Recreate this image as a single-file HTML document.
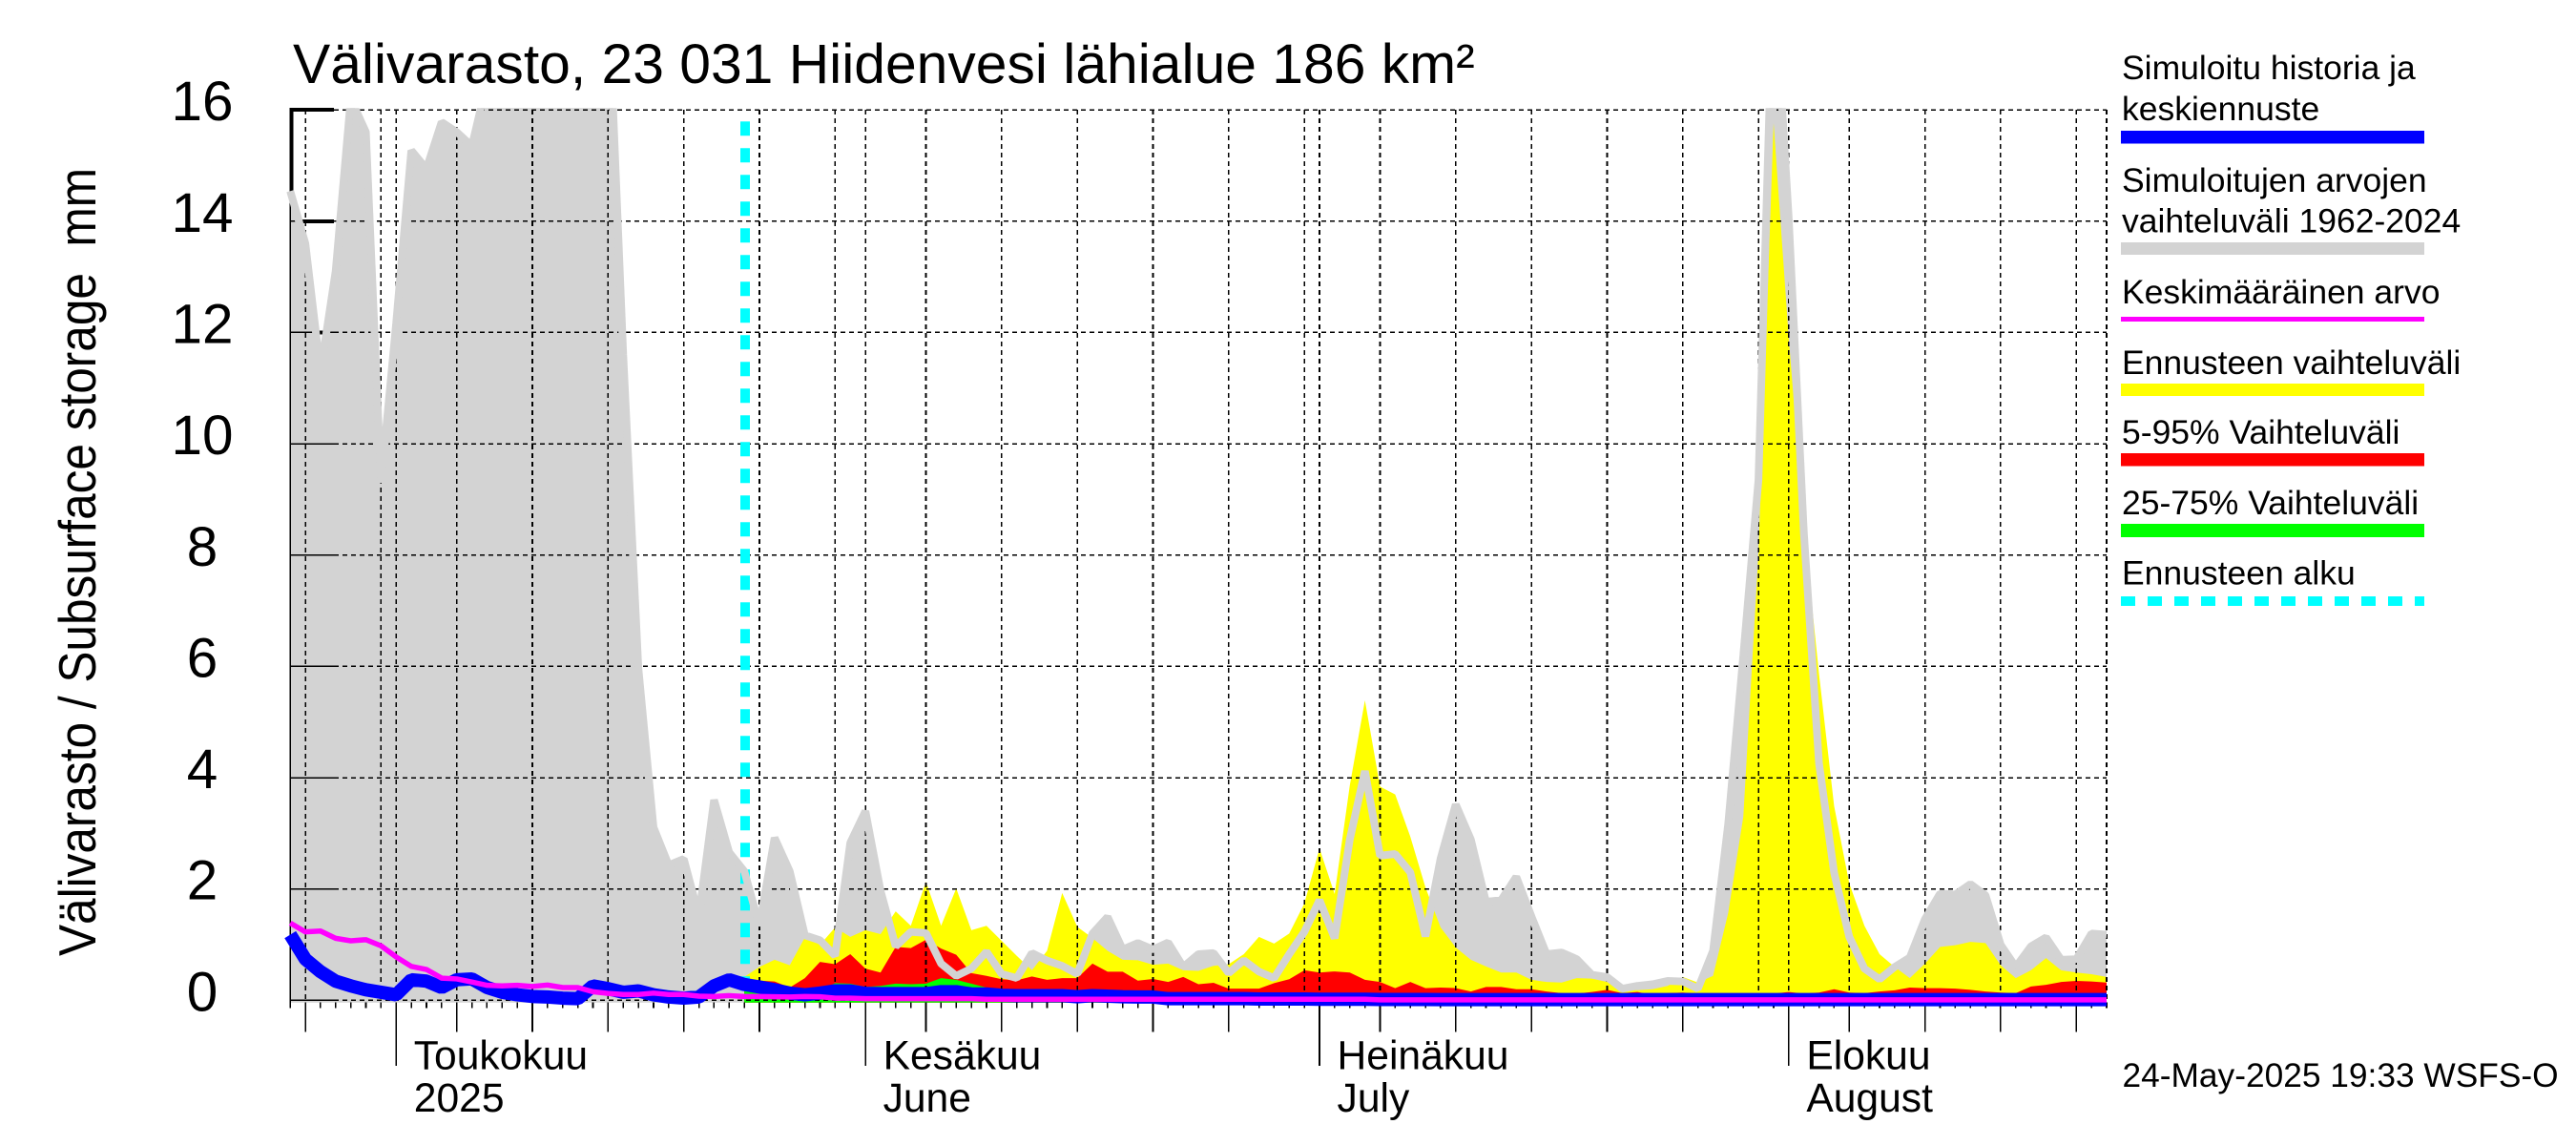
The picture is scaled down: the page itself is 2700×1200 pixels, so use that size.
<!DOCTYPE html>
<html lang="fi">
<head>
<meta charset="utf-8">
<title>Välivarasto, 23 031 Hiidenvesi lähialue</title>
<style>
html,body{margin:0;padding:0;background:#fff;}
svg{display:block;}
text{font-family:"Liberation Sans",sans-serif;fill:#000;}
.leg{font-size:35.5px;}
.crisp{shape-rendering:crispEdges;}
</style>
</head>
<body>
<svg id="chart" xmlns="http://www.w3.org/2000/svg" width="2700" height="1200" viewBox="0 0 2700 1200">
  <defs>
    <clipPath id="plot-clip"><rect x="290" y="113.3" width="1918" height="960"></rect></clipPath>
  </defs>
  <rect x="0" y="0" width="2700" height="1200" fill="#ffffff"></rect>

  <text x="307" y="87" font-size="58.8">Välivarasto, 23 031 Hiidenvesi lähialue 186 km²</text>
  <text transform="translate(100,1002) rotate(-90)" font-size="55" textLength="826" lengthAdjust="spacingAndGlyphs" style="white-space:pre">Välivarasto / Subsurface storage  mm</text>

  <g id="layer-axis-under"></g>
  <g id="layer-fills"></g>
  <g id="layer-grid" class="crisp"></g>
  <line x1="781" y1="127.3" x2="781" y2="1050" stroke="#00ffff" stroke-width="10" stroke-dasharray="15 13"></line>
  <g id="layer-lines"></g>
  <g id="layer-labels"></g>

  <g>
    <g>
      <text class="leg" x="2224" y="83">Simuloitu historia ja</text>
      <text class="leg" x="2224" y="126">keskiennuste</text>
      <rect class="crisp" x="2223" y="137" width="318" height="13.5" fill="#0000ff"></rect>
    </g>
    <g>
      <text class="leg" x="2224" y="201">Simuloitujen arvojen</text>
      <text class="leg" x="2224" y="243.5">vaihteluväli 1962-2024</text>
      <rect class="crisp" x="2223" y="254" width="318" height="13" fill="#d3d3d3"></rect>
    </g>
    <g>
      <text class="leg" x="2224" y="318">Keskimääräinen arvo</text>
      <rect class="crisp" x="2223" y="332" width="318" height="5" fill="#ff00ff"></rect>
    </g>
    <g>
      <text class="leg" x="2224" y="392">Ennusteen vaihteluväli</text>
      <rect class="crisp" x="2223" y="402" width="318" height="13" fill="#ffff00"></rect>
    </g>
    <g>
      <text class="leg" x="2224" y="465">5-95% Vaihteluväli</text>
      <rect class="crisp" x="2223" y="475" width="318" height="13.5" fill="#ff0000"></rect>
    </g>
    <g>
      <text class="leg" x="2224" y="539">25-75% Vaihteluväli</text>
      <rect class="crisp" x="2223" y="549" width="318" height="14" fill="#00ff00"></rect>
    </g>
    <g>
      <text class="leg" x="2224" y="612.5">Ennusteen alku</text>
      <line class="crisp" x1="2223" y1="630" x2="2541" y2="630" stroke="#00ffff" stroke-width="10" stroke-dasharray="15 13"></line>
    </g>
  </g>
  <text x="2224.5" y="1139" font-size="35.3">24-May-2025 19:33 WSFS-O</text>
</svg>

<script>
// Categories and tick labels
const yTickValues = [0, 2, 4, 6, 8, 10, 12, 14, 16];
const monthLabelsFi = ['Toukokuu', 'Kesäkuu', 'Heinäkuu', 'Elokuu'];
const monthLabelsEn = ['2025', 'June', 'July', 'August'];

// Simulated range upper bound, daily from 24 Apr (121 values)
const rangeUpper = [
  14.54,13.6,11.3,13.1,16.2,15.6,9.3,12.17,15.27,14.94,
  15.78,15.6,15.35,16.5,18,18,18,18,18,18,
  18,18.2,11.6,5.97,3.11,2.43,2.54,1.52,3.6,2.66,
  2.32,1.34,2.92,2.32,1.17,1.08,0.8,2.83,3.4,1.97,
  0.97,1.23,1.21,0.66,0.44,0.57,0.875,0.475,0.4,0.85,
  0.715,0.62,0.475,1.2,1.5,0.915,1.03,0.915,1.04,0.6,
  0.83,0.85,0.49,0.72,0.515,0.4,0.83,1.23,1.8,1.115,
  2.89,4.12,2.6,2.63,2.3,1.15,2.55,3.52,2.89,1.77,
  1.8,2.22,1.51,0.83,0.86,0.74,0.46,0.42,0.21,0.26,
  0.29,0.35,0.34,0.21,0.89,3.17,6.2,9.35,18.6,14.05,
  8.4,4.26,2.29,1.14,0.57,0.38,0.6,0.77,1.46,1.92,
  1.9,2.09,1.89,1.0,0.6,0.97,1.13,0.73,0.74,1.2,
  1.18
];

// Forecast range upper bound, daily from 24 May (91 values)
const forecastUpper = [
  0.42,0.6,0.73,0.63,1.13,1.0,1.31,1.14,1.26,1.19,
  1.6,1.34,2.13,1.34,2.01,1.26,1.34,1.07,0.8,0.54,
  0.89,1.93,1.32,1.12,0.89,0.73,0.72,0.64,0.66,0.54,
  0.53,0.62,0.65,0.83,1.14,1.02,1.2,1.74,2.73,1.91,
  3.86,5.39,3.84,3.7,2.94,2.03,1.31,0.95,0.73,0.61,
  0.5,0.5,0.37,0.33,0.32,0.4,0.39,0.33,0.2,0.18,
  0.2,0.26,0.42,0.32,0.44,1.57,3.3,8.03,15.76,11.9,
  8.5,5.87,3.49,2.1,1.34,0.83,0.6,0.4,0.66,0.96,
  0.99,1.05,1.03,0.63,0.4,0.54,0.76,0.54,0.5,0.47,
  0.42
];

// 5-95 % upper bound, daily from 24 May (91 values)
const p95Upper = [
  0.38,0.355,0.34,0.23,0.4,0.69,0.65,0.83,0.57,0.5,
  0.96,0.94,1.09,0.93,0.82,0.49,0.44,0.38,0.36,0.43,
  0.37,0.4,0.4,0.66,0.515,0.515,0.355,0.385,0.33,0.42,
  0.29,0.315,0.21,0.21,0.21,0.31,0.38,0.54,0.5,0.52,
  0.5,0.37,0.33,0.22,0.33,0.22,0.23,0.22,0.16,0.24,
  0.24,0.2,0.2,0.16,0.13,0.12,0.15,0.19,0.13,0.15,
  0.1,0.13,0.14,0.12,0.12,0.12,0.12,0.12,0.12,0.15,
  0.12,0.14,0.2,0.14,0.13,0.16,0.18,0.23,0.22,0.22,
  0.21,0.19,0.16,0.14,0.13,0.25,0.28,0.33,0.35,0.34,
  0.32
];

// 25-75 % upper bound, daily from 24 May (91 values)
const p75Upper = [
  0.2,0.2,0.18,0.12,0.12,0.18,0.31,0.3,0.24,0.26,
  0.3,0.29,0.3,0.4,0.37,0.3,0.23,0.12,0.12,0.12,
  0.12,0.12,0.1,0.12,0.1,0.1,0.1,0.1,0.08,0.08,
  0.08,0.08,0.08,0.08,0.08,0.08,0.08,0.08,0.08,0.08,
  0.08,0.08,0.08,0.08,0.08,0.08,0.08,0.08,0.08,0.08,
  0.08,0.08,0.08,0.08,0.08,0.08,0.08,0.08,0.08,0.08,
  0.08,0.08,0.08,0.08,0.08,0.08,0.08,0.08,0.08,0.08,
  0.08,0.08,0.08,0.08,0.08,0.08,0.08,0.08,0.08,0.08,
  0.08,0.08,0.08,0.08,0.08,0.08,0.08,0.08,0.08,0.08,
  0.08
];

// Simulated history and median forecast, daily from 24 Apr (121 values)
const medianSeries = [
  1.18,0.74,0.515,0.345,0.26,0.19,0.145,0.1,0.37,0.345,
  0.23,0.37,0.385,0.23,0.145,0.1,0.07,0.06,0.04,0.03,
  0.26,0.21,0.145,0.17,0.1,0.06,0.04,0.06,0.26,0.37,
  0.285,0.24,0.19,0.13,0.1,0.13,0.17,0.17,0.125,0.12,
  0.12,0.12,0.12,0.155,0.155,0.115,0.115,0.09,0.085,0.085,
  0.085,0.085,0.065,0.085,0.075,0.065,0.06,0.06,0.03,0.03,
  0.03,0.03,0.03,0.03,0.025,0.025,0.025,0.025,0.02,0.02,
  0.02,0.02,0.015,0.015,0.015,0.015,0.013,0.013,0.013,0.013,
  0.013,0.013,0.013,0.013,0.013,0.013,0.013,0.013,0.013,0.013,
  0.013,0.013,0.013,0.013,0.013,0.013,0.013,0.013,0.013,0.013,
  0.013,0.013,0.013,0.013,0.013,0.013,0.013,0.013,0.013,0.013,
  0.013,0.013,0.013,0.013,0.013,0.013,0.013,0.013,0.013,0.013,
  0.013
];

// Long-term mean, daily from 24 Apr (121 values)
const meanSeries = [
  1.39,1.23,1.245,1.115,1.07,1.09,0.98,0.78,0.61,0.555,
  0.4,0.385,0.33,0.27,0.26,0.27,0.25,0.275,0.23,0.23,
  0.155,0.125,0.105,0.105,0.13,0.105,0.105,0.075,0.07,0.085,
  0.07,0.07,0.065,0.06,0.07,0.065,0.04,0.04,0.03,0.03,
  0.03,0.03,0.03,0.03,0.03,0.03,0.02,0.02,0.02,0.02,
  0.02,0.02,0.02,0.02,0.02,0.02,0.02,0.02,0.02,0.02,
  0.02,0.02,0.02,0.02,0.02,0.02,0.02,0.02,0.02,0.02,
  0.02,0.02,0.01,0.01,0.01,0.01,0.01,0.01,0.01,0.01,
  0.01,0.01,0.01,0.01,0.01,0.01,0.01,0.01,0.01,0.01,
  0.01,0.01,0.01,0.01,0.01,0.01,0.01,0.01,0.01,0.01,
  0.01,0.01,0.01,0.01,0.01,0.01,0.01,0.01,0.01,0.01,
  0.01,0.01,0.01,0.01,0.01,0.01,0.01,0.01,0.01,0.01,
  0.01
];

const forecastStartIndex = 30;
const SVG_NS = 'http://www.w3.org/2000/svg';
const plotBottom = 1050.7;
const plotRight = 2208;

function xScale(i) { return 304.2 + 15.865 * i; }
function yScale(v) { return 1048.4 - 58.33 * v; }
function dateOf(i) { return new Date(2025, 3, 24 + i); }

function make(tag, parent, attrs) {
  const el = document.createElementNS(SVG_NS, tag);
  for (const k in attrs) el.setAttribute(k, attrs[k]);
  parent.appendChild(el);
  return el;
}
function linePoints(values, offset) {
  return values.map(function (v, k) {
    return xScale(k + offset).toFixed(2) + ',' + yScale(v).toFixed(2);
  }).join(' ');
}
function areaPoints(values, offset) {
  const first = xScale(offset).toFixed(2);
  const last = xScale(offset + values.length - 1).toFixed(2);
  return first + ',' + plotBottom + ' ' + linePoints(values, offset) + ' ' + last + ',' + plotBottom;
}

const under = document.getElementById('layer-axis-under');
const fills = document.getElementById('layer-fills');
const grid = document.getElementById('layer-grid');
const lines = document.getElementById('layer-lines');
const labels = document.getElementById('layer-labels');

// thick axis beneath the grey range
const thickAxis = make('line', under, { x1: 305.3, y1: 113.3, x2: 305.3, y2: plotBottom, stroke: '#000', 'stroke-width': 4, 'shape-rendering': 'crispEdges' });



yTickValues.forEach(function (v) {
  const t = make('line', under, { x1: 303.3, y1: yScale(v), x2: 350, y2: yScale(v), stroke: '#000', 'stroke-width': 4, 'shape-rendering': 'crispEdges' });
  
  
});

// filled ranges
const grayFill = make('polygon', fills, { points: areaPoints(rangeUpper, 0), fill: '#d3d3d3', 'clip-path': 'url(#plot-clip)' });



const yellowFill = make('polygon', fills, { points: areaPoints(forecastUpper, forecastStartIndex), fill: '#ffff00' });



const redFill = make('polygon', fills, { points: areaPoints(p95Upper, forecastStartIndex), fill: '#ff0000' });



const greenFill = make('polygon', fills, { points: areaPoints(p75Upper, forecastStartIndex), fill: '#00ff00' });



// horizontal grid and thin y ticks
yTickValues.forEach(function (v) {
  const g = make('line', grid, { x1: 350, y1: yScale(v), x2: plotRight, y2: yScale(v), stroke: '#000', 'stroke-width': 1.6, 'stroke-dasharray': '5 4' });
  
  
  const t = make('line', grid, { x1: 303.3, y1: yScale(v), x2: 350, y2: yScale(v), stroke: '#000', 'stroke-width': 1.5 });
  
  
  const lab = make('text', labels, { x: 212, y: yScale(v) + 11, 'font-size': 58.4, 'text-anchor': 'middle' });
  lab.textContent = String(v);
  
  
});

const thinAxis = make('line', grid, { x1: 304, y1: 200, x2: 304, y2: plotBottom, stroke: '#000', 'stroke-width': 1.5 });



// day ticks, vertical grid, month labels
let monthCounter = 0;
for (let i = 0; i < rangeUpper.length; i++) {
  const d = dateOf(i).getDate();
  const x = xScale(i);
  let tickEnd = 1056.7;
  if (d === 5 || d === 10 || d === 15 || d === 20 || d === 25) tickEnd = 1081.7;
  if (d === 1) tickEnd = 1117;
  const tick = make('line', grid, { x1: x, y1: plotBottom, x2: x, y2: tickEnd, stroke: '#000', 'stroke-width': 1.6 });
  
  
  if (d === 1 || d % 5 === 0 || i === rangeUpper.length - 1) {
    const v = make('line', grid, { x1: x, y1: 115, x2: x, y2: plotBottom, stroke: '#000', 'stroke-width': 1.6, 'stroke-dasharray': '5 4' });
    
    
  }
  if (d === 1) {
    const top = make('text', labels, { x: x + 18.5, y: 1120.7, 'font-size': 42.6 });
    top.textContent = monthLabelsFi[monthCounter];
    
    
    const bottom = make('text', labels, { x: x + 18.5, y: 1165, 'font-size': 42.6 });
    bottom.textContent = monthLabelsEn[monthCounter];
    
    
    monthCounter++;
  }
}

// grey outline sits above the forecast fills, then the median and mean lines
const grayLine = make('polyline', lines, { points: linePoints(rangeUpper, 0), fill: 'none', stroke: '#d3d3d3', 'stroke-width': 8, 'stroke-linejoin': 'bevel', 'clip-path': 'url(#plot-clip)' });



const blueLine = make('polyline', lines, { points: linePoints(medianSeries, 0), fill: 'none', stroke: '#0000ff', 'stroke-width': 14, 'stroke-linejoin': 'bevel' });



const magentaLine = make('polyline', lines, { points: linePoints(meanSeries, 0), fill: 'none', stroke: '#ff00ff', 'stroke-width': 5.5, 'stroke-linejoin': 'round' });


</script>
</body>
</html>
